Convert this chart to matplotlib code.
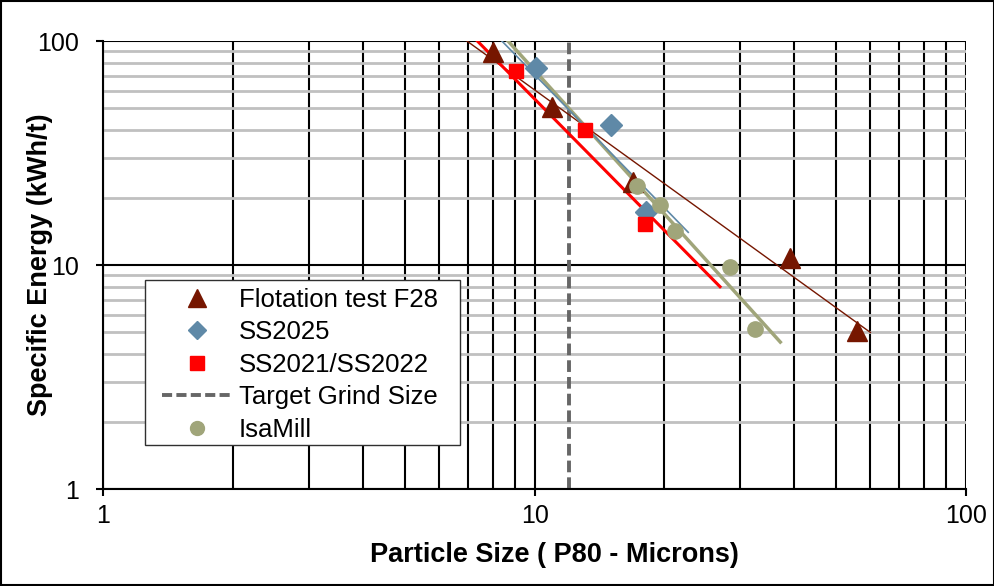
import numpy as np
import matplotlib.pyplot as plt
from matplotlib.lines import Line2D
from matplotlib.patches import Rectangle

plt.rcParams['font.family'] = ['Liberation Sans', 'DejaVu Sans']

# measured points (P80 microns, kWh/t)
flot_x = [8.0, 11.0, 16.9, 39.0, 56.0]
flot_y = [89, 50.5, 23.5, 10.8, 5.05]
ss2025_x = [10.1, 15.0, 18.1]
ss2025_y = [75.5, 42.2, 17.3]
ss2021_x = [9.05, 13.1, 18.0]
ss2021_y = [73.5, 40.0, 15.3]
isa_x = [17.3, 19.5, 21.2, 28.4, 32.4]
isa_y = [22.5, 18.5, 14.2, 9.8, 5.2]
target_size = 12.0

# trendlines (power law) read as start/end points
flot_trend_x = [6.97, 60.0]
flot_trend_y = [100, 5.0]
ss2025_trend_x = [8.4, 22.7]
ss2025_trend_y = [100, 14.0]
ss2021_trend_x = [7.37, 26.9]
ss2021_trend_y = [100, 8.0]
isa_trend_x = [8.68, 37.1]
isa_trend_y = [100, 4.53]

c_flot = '#761600'
c_blue = '#5F89A7'
c_red = '#FF0000'
c_olive = '#A0A57A'
c_target = '#666666'

fig = plt.figure(figsize=(9.95, 5.86), dpi=100)
ax = fig.add_axes([0.1035, 0.1655, 0.8675, 0.7645])

ax.set_xscale('log')
ax.set_yscale('log')
ax.set_xlim(1, 100)
ax.set_ylim(1, 100)

# grid
ax.grid(True, which='major', axis='both', color='black', linewidth=1.5, zorder=0)
ax.grid(True, which='minor', axis='x', color='black', linewidth=1.5, zorder=0)
ax.grid(True, which='minor', axis='y', color='#c0c0c0', linewidth=2, zorder=0)
ax.set_axisbelow(True)

# trendlines
ax.plot(flot_trend_x, flot_trend_y, color=c_flot, linewidth=1, zorder=3)
ax.plot(ss2021_trend_x, ss2021_trend_y, color=c_red, linewidth=2.2, zorder=3)
ax.plot(isa_trend_x, isa_trend_y, color=c_olive, linewidth=2.5, zorder=3)
ax.plot(ss2025_trend_x, ss2025_trend_y, color=c_blue, linewidth=1.2, zorder=3)

ax.axvline(target_size, color=c_target, linestyle=(0, (3, 1.3)), linewidth=2.8, zorder=2)

ax.plot(flot_x, flot_y, linestyle='none', marker='^', markersize=14, color=c_flot, zorder=4)
ax.plot(ss2025_x, ss2025_y, linestyle='none', marker='D', markersize=11, color=c_blue, zorder=4)
ax.plot(ss2021_x, ss2021_y, linestyle='none', marker='s', markersize=10.5, color=c_red, zorder=4)
ax.plot(isa_x, isa_y, linestyle='none', marker='o', markersize=11, color=c_olive, zorder=4)

for s in ['top', 'right']:
    ax.spines[s].set_visible(False)
for s in ['left', 'bottom']:
    ax.spines[s].set_linewidth(1.5)

ax.set_xticks([1, 10, 100])
ax.set_xticklabels(['1', '10', '100'])
ax.set_yticks([1, 10, 100])
ax.set_yticklabels(['1', '10', '100'])
ax.tick_params(which='major', length=5, width=1.5, labelsize=18)
ax.tick_params(axis='x', pad=6)
ax.tick_params(axis='y', pad=12)
ax.tick_params(which='minor', length=0)

ax.set_xlabel('Particle Size ( P80 - Microns)', fontsize=19.5, fontweight='bold')
ax.set_ylabel('Specific Energy (kWh/t)', fontsize=19.5, fontweight='bold')
ax.xaxis.label.set_va('center')
ax.xaxis.set_label_coords(0.5226, -0.147)
ax.yaxis.label.set_va('center')
ax.yaxis.set_label_coords(-0.073, 0.5)

# legend frame
ax.add_patch(Rectangle((0.0487, 0.0982), 0.365, 0.3683, transform=ax.transAxes,
                       facecolor='white', edgecolor='#303030', linewidth=1, zorder=5))

handles = [
    Line2D([], [], linestyle='none', marker='^', markersize=13, color=c_flot),
    Line2D([], [], linestyle='none', marker='D', markersize=9, color=c_blue),
    Line2D([], [], linestyle='none', marker='s', markersize=10, color=c_red),
    Line2D([], [], linestyle=(0, (2.6, 1.1)), linewidth=2.8, color=c_target),
    Line2D([], [], linestyle='none', marker='o', markersize=10, color=c_olive),
]
labels = ['Flotation test F28', 'SS2025', 'SS2021/SS2022', 'Target Grind Size', 'IsaMill']
leg = ax.legend(handles, labels, loc='upper left', bbox_to_anchor=(0.0684, 0.4487),
                fontsize=18.5, frameon=False, handlelength=2.7, labelspacing=0.33,
                borderpad=0, handletextpad=0.3, borderaxespad=0)
leg.set_zorder(6)

fig.patches.append(Rectangle((0.001, 0.001), 0.998, 0.997, transform=fig.transFigure,
                             fill=False, edgecolor='black', linewidth=1.5))

fig.savefig('out.png', dpi=100)
